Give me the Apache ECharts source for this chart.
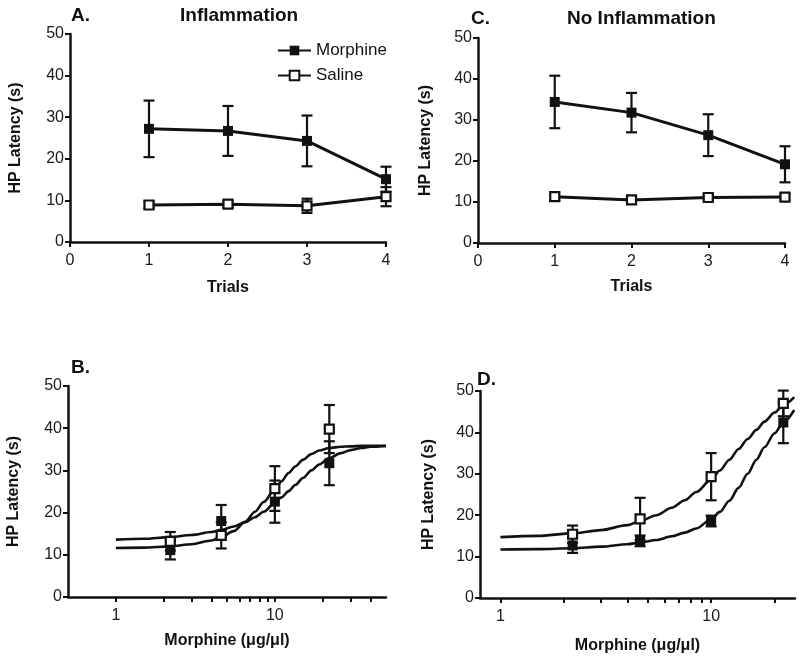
<!DOCTYPE html>
<html>
<head>
<meta charset="utf-8">
<script src="https://cdn.jsdelivr.net/npm/echarts@6/dist/echarts.min.js"></script>
<style>
  html, body { margin: 0; padding: 0; background: #fff; }
  #chart { width: 800px; height: 657px; }
</style>
</head>
<body>
<div id="chart"></div>
<script>
// ---------- data ----------
const trials = [1, 2, 3, 4];
const trialTicks = [0, 1, 2, 3, 4];
const yTicks = [0, 10, 20, 30, 40, 50];

// Panel A: Inflammation
const aMorphMean = [27.2, 26.7, 24.3, 15.1];
const aMorphSem  = [6.8, 6.0, 6.1, 3.0];
const aSalMean   = [8.9, 9.1, 8.7, 10.9];
const aSalSem    = [0.8, 0.8, 1.7, 2.3];

// Panel C: No Inflammation
const cMorphMean = [34.4, 31.8, 26.3, 19.2];
const cMorphSem  = [6.4, 4.8, 5.1, 4.4];
const cSalMean   = [11.3, 10.5, 11.1, 11.2];
const cSalSem    = [1.0, 0.7, 0.6, 0.8];

// Dose-response (B, D)
const doses = [2.2, 4.6, 10, 22];
const bMorphMean = [11.1, 18.0, 22.6, 31.7];
const bMorphSem  = [2.2, 3.8, 5.0, 5.2];
const bSalMean   = [13.2, 14.6, 25.7, 39.8];
const bSalSem    = [2.2, 3.1, 5.3, 5.7];

const dMorphMean = [12.7, 13.8, 18.6, 42.4];
const dMorphSem  = [1.8, 1.3, 1.3, 5.0];
const dSalMean   = [15.4, 19.1, 29.3, 47.0];
const dSalSem    = [2.1, 5.1, 5.7, 3.1];

// fitted curves
const bCurveDose    = [1, 1.5, 2.2, 3, 4, 4.6, 5.5, 6.5, 7.5, 8.5, 10, 11, 12.2, 13.5, 15, 17, 19, 22, 26, 30, 35, 40, 50];
const bCurveSteep   = [11.6, 11.7, 12.0, 12.5, 13.4, 14.2, 15.6, 17.8, 20.2, 22.5, 25.5, 27.4, 29.4, 31.0, 32.5, 33.9, 34.7, 35.3, 35.6, 35.7, 35.8, 35.8, 35.8];
const bCurveShallow = [13.6, 13.8, 14.2, 14.7, 15.4, 15.9, 16.7, 17.7, 18.9, 20.2, 22.3, 23.6, 25.1, 26.6, 28.2, 30.0, 31.4, 32.9, 34.1, 34.8, 35.3, 35.6, 35.8];

const dCurveDose  = [1, 1.5, 2.2, 3, 4, 4.6, 5.5, 6.5, 7.5, 8.5, 10, 11, 12.2, 13.5, 14.9, 16.4, 17.9, 20, 22, 24.8];
const dCurveUpper = [14.7, 15.0, 15.6, 16.4, 17.6, 18.6, 20.0, 21.8, 23.6, 25.6, 28.6, 30.8, 33.4, 36.0, 38.4, 40.6, 42.6, 44.8, 46.6, 48.5];
const dCurveLower = [11.7, 11.8, 12.0, 12.4, 13.0, 13.4, 14.0, 14.9, 15.8, 16.8, 19.0, 20.8, 23.5, 26.6, 30.0, 33.4, 36.4, 39.8, 42.4, 45.4];

const bDoseTicks  = [1, 2, 3, 4, 5, 6, 7, 8, 9, 10, 20, 30, 40];
const dDoseTicks  = [1, 2, 3, 4, 5, 6, 7, 8, 9, 10, 20];
const doseLabels  = [1, 10];

// ---------- styling ----------
const FONT = 'Liberation Sans, Arial, Helvetica, sans-serif';
const INK = '#111';

function zip(xs, ys) { return xs.map((x, i) => [x, ys[i]]); }
function zip3(xs, ys, es) { return xs.map((x, i) => [x, ys[i], es[i]]); }

let errCount = 0;
function errBars(idx, xs, means, sems) {
  errCount++;
  return {
    type: 'custom', name: 'err' + errCount, xAxisIndex: idx, yAxisIndex: idx,
    z: 1, clip: false, silent: true,
    encode: { x: 0, y: 1 },
    data: zip3(xs, means, sems),
    renderItem: function (params, api) {
      const x = api.value(0), y = api.value(1), e = api.value(2);
      const hi = api.coord([x, y + e]);
      const lo = api.coord([x, y - e]);
      const hw = 5.5;
      const st = { stroke: INK, lineWidth: 2.2, fill: null };
      return {
        type: 'group',
        children: [
          { type: 'line', shape: { x1: hi[0], y1: hi[1], x2: lo[0], y2: lo[1] }, style: st },
          { type: 'line', shape: { x1: hi[0] - hw, y1: hi[1], x2: hi[0] + hw, y2: hi[1] }, style: st },
          { type: 'line', shape: { x1: lo[0] - hw, y1: lo[1], x2: lo[0] + hw, y2: lo[1] }, style: st }
        ]
      };
    }
  };
}

function pointLine(name, idx, xs, ys, filled, withLine) {
  return {
    type: 'line', name: name, xAxisIndex: idx, yAxisIndex: idx, z: 3,
    data: zip(xs, ys),
    symbol: 'rect', symbolSize: filled ? 10 : 9,
    showSymbol: true,
    lineStyle: withLine ? { color: INK, width: 3 } : { width: 0, opacity: 0 },
    itemStyle: filled ? { color: INK, borderColor: INK, borderWidth: 0 }
                      : { color: '#fff', borderColor: INK, borderWidth: 2.2 },
    emphasis: { disabled: true },
    animation: false
  };
}

let fitCount = 0;
function curve(idx, xs, ys) {
  fitCount++;
  return {
    type: 'line', name: 'fit' + fitCount, xAxisIndex: idx, yAxisIndex: idx, z: 2,
    data: zip(xs, ys), smooth: 0.3, smoothMonotone: 'x', showSymbol: false, symbol: 'none',
    lineStyle: { color: INK, width: 2.6 }, silent: true, animation: false
  };
}

const axisLineStyle = { show: true, onZero: false, lineStyle: { color: INK, width: 2.5 } };
const tickStyle = { show: true, length: 5, lineStyle: { color: INK, width: 2 } };
const labelStyle = { color: '#1a1a1a', fontSize: 16, fontFamily: FONT };
const nameStyle = { color: INK, fontSize: 16, fontWeight: 'bold', fontFamily: FONT };

function yAxisCfg(idx, gap) {
  return {
    type: 'value', gridIndex: idx, min: 0, max: 50, interval: 10,
    name: 'HP Latency (s)', nameLocation: 'middle', nameGap: gap, nameRotate: 90,
    nameTextStyle: nameStyle,
    axisLine: axisLineStyle, axisTick: tickStyle,
    axisLabel: Object.assign({ margin: 6 }, labelStyle),
    splitLine: { show: false }
  };
}

function trialAxis(idx, gap) {
  return {
    type: 'value', gridIndex: idx, min: 0, max: 4, interval: 1,
    name: 'Trials', nameLocation: 'middle', nameGap: gap, nameTextStyle: nameStyle,
    axisLine: axisLineStyle, axisTick: tickStyle,
    axisLabel: Object.assign({ margin: 11 }, labelStyle),
    splitLine: { show: false }
  };
}

function doseAxis(idx, mn, mx, ticks, gap) {
  return {
    type: 'log', logBase: 10, gridIndex: idx, min: mn, max: mx,
    name: 'Morphine (\u03bcg/\u03bcl)', nameLocation: 'middle', nameGap: gap, nameTextStyle: nameStyle,
    axisLine: axisLineStyle,
    axisTick: Object.assign({ customValues: ticks }, tickStyle),
    minorTick: { show: false },
    axisLabel: Object.assign({ margin: 11, customValues: doseLabels, formatter: v => String(Math.round(v)) }, labelStyle),
    splitLine: { show: false }
  };
}

const titleStyle = { color: INK, fontSize: 19, fontWeight: 'bold', fontFamily: FONT };

const option = {
  backgroundColor: '#fff',
  animation: false,
  title: [
    { text: 'A.', left: 66, top: 1, textStyle: titleStyle },
    { text: 'Inflammation', left: 175, top: 1, textStyle: titleStyle },
    { text: 'C.', left: 466, top: 4, textStyle: titleStyle },
    { text: 'No Inflammation', left: 562, top: 4, textStyle: titleStyle },
    { text: 'B.', left: 66, top: 353, textStyle: titleStyle },
    { text: 'D.', left: 472, top: 365, textStyle: titleStyle }
  ],
  legend: {
    data: ['Morphine', 'Saline'], orient: 'vertical', left: 272, top: 37,
    itemWidth: 33, itemHeight: 12, itemGap: 8,
    textStyle: { color: INK, fontSize: 17, fontFamily: FONT },
    selectedMode: false
  },
  grid: [
    { left: 70, top: 34, width: 316, height: 208 },
    { left: 478, top: 38, width: 307, height: 205 },
    { left: 68, top: 386, width: 318, height: 211 },
    { left: 480, top: 391, width: 315, height: 207 }
  ],
  xAxis: [
    trialAxis(0, 38),
    trialAxis(1, 36),
    doseAxis(2, 0.5, 50, bDoseTicks, 36),
    doseAxis(3, 0.8, 25, dDoseTicks, 40)
  ],
  yAxis: [
    yAxisCfg(0, 46.5),
    yAxisCfg(1, 44.5),
    yAxisCfg(2, 46.5),
    yAxisCfg(3, 43.5)
  ],
  series: [
    // A
    errBars(0, trials, aMorphMean, aMorphSem),
    errBars(0, trials, aSalMean, aSalSem),
    pointLine('Morphine', 0, trials, aMorphMean, true, true),
    pointLine('Saline', 0, trials, aSalMean, false, true),
    // C
    errBars(1, trials, cMorphMean, cMorphSem),
    errBars(1, trials, cSalMean, cSalSem),
    pointLine('Morphine', 1, trials, cMorphMean, true, true),
    pointLine('Saline', 1, trials, cSalMean, false, true),
    // B
    curve(2, bCurveDose, bCurveSteep),
    curve(2, bCurveDose, bCurveShallow),
    errBars(2, doses, bMorphMean, bMorphSem),
    errBars(2, doses, bSalMean, bSalSem),
    pointLine('Morphine', 2, doses, bMorphMean, true, false),
    pointLine('Saline', 2, doses, bSalMean, false, false),
    // D
    curve(3, dCurveDose, dCurveUpper),
    curve(3, dCurveDose, dCurveLower),
    errBars(3, doses, dMorphMean, dMorphSem),
    errBars(3, doses, dSalMean, dSalSem),
    pointLine('Morphine', 3, doses, dMorphMean, true, false),
    pointLine('Saline', 3, doses, dSalMean, false, false)
  ]
};

const chart = echarts.init(document.getElementById('chart'), null, { renderer: 'canvas' });
chart.setOption(option);
</script>
</body>
</html>
